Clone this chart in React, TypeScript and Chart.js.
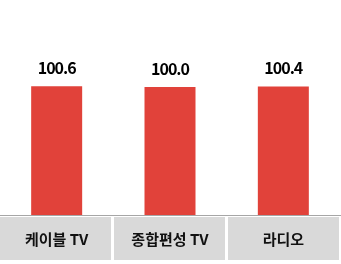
import React, { useEffect, useRef } from "react";
import { Chart, registerables } from "chart.js";

Chart.register(...registerables);

const categories = ["케이블 TV", "종합편성 TV", "라디오"];
const values = [100.6, 100.0, 100.4];
const valueLabels = ["100.6", "100.0", "100.4"];

const FONT = "'Noto Sans CJK KR', 'Noto Sans', sans-serif";

const cellPlugin = {
  id: "cells",
  afterDraw(chart: any) {
    const { ctx, chartArea } = chart;
    const xs = chart.scales.x;
    const n = categories.length;
    const catW = (chartArea.right - chartArea.left) / n;
    ctx.save();
    // axis line
    ctx.strokeStyle = "#a6a6a6";
    ctx.lineWidth = 1;
    ctx.beginPath();
    ctx.moveTo(0, chartArea.bottom + 0.5);
    ctx.lineTo(chart.width, chartArea.bottom + 0.5);
    ctx.stroke();
    const top = chartArea.bottom + 2;
    const bottom = top + 43;
    for (let i = 0; i < n; i++) {
      const cx = xs.getPixelForValue(i);
      const left = cx - catW / 2;
      ctx.fillStyle = "#d9d9d9";
      ctx.fillRect(Math.round(left) + (i === 0 ? 0 : 1), top, Math.round(catW) - 2, bottom - top);
      ctx.fillStyle = "#111";
      ctx.font = `bold 15px ${FONT}`;
      ctx.textAlign = "center";
      ctx.textBaseline = "middle";
      ctx.fillText(categories[i], cx, (top + bottom) / 2 + 1);
    }
    // value labels
    const meta = chart.getDatasetMeta(0);
    ctx.font = `bold 16px ${FONT}`;
    (ctx as any).letterSpacing = "-1px";
    ctx.fillStyle = "#000";
    ctx.textAlign = "center";
    ctx.textBaseline = "alphabetic";
    meta.data.forEach((bar: any, i: number) => {
      ctx.fillText(valueLabels[i], bar.x, bar.y - 12);
    });
    ctx.restore();
  },
};

export default function App() {
  const ref = useRef<HTMLCanvasElement>(null);
  useEffect(() => {
    document.body.style.margin = "0";
    const chart = new Chart(ref.current!, {
      type: "bar",
      data: {
        labels: categories,
        datasets: [
          {
            data: values,
            backgroundColor: "#e1423a",
            barPercentage: 0.45,
            categoryPercentage: 1,
          },
        ],
      },
      options: {
        animation: false,
        responsive: false,
        layout: { padding: { top: 23, bottom: 49, left: 0, right: 1 } },
        plugins: { legend: { display: false }, tooltip: { enabled: false } },
        scales: {
          x: { display: false },
          y: { display: false, min: 0, max: 150 },
        },
      },
      plugins: [cellPlugin],
    });
    return () => chart.destroy();
  }, []);
  return (
    <div style={{ width: 341, height: 264 }}>
      <canvas ref={ref} width={341} height={264} style={{ width: 341, height: 264, display: "block" }} />
    </div>
  );
}
